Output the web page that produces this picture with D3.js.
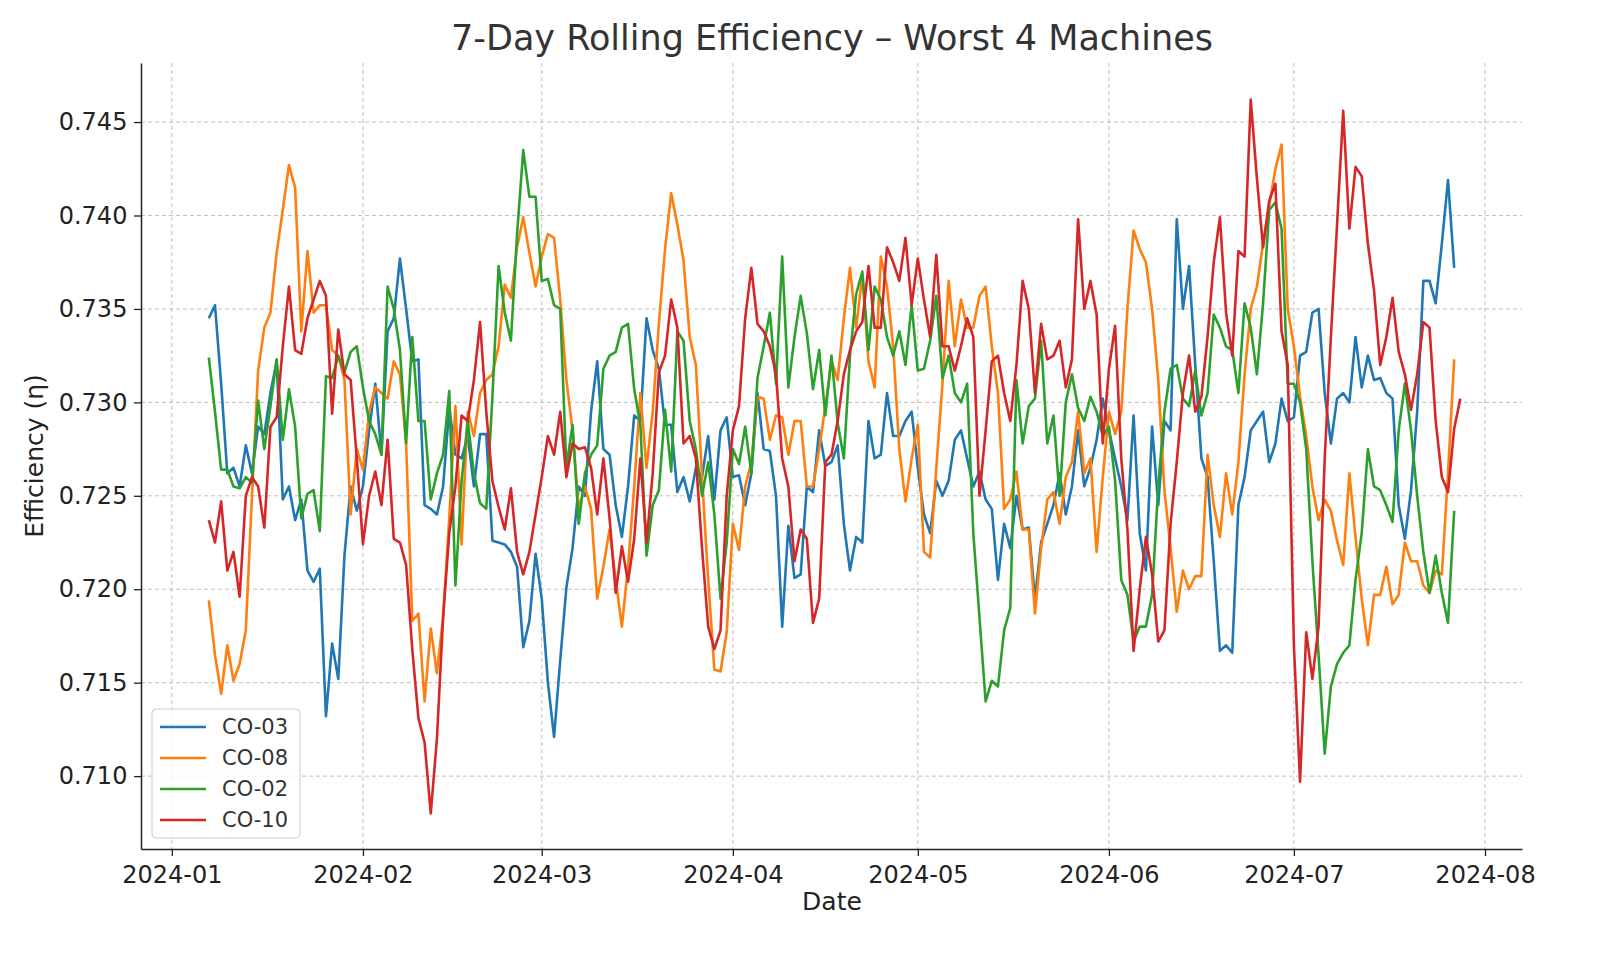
<!DOCTYPE html>
<html><head><meta charset="utf-8">
<script src="https://cdn.jsdelivr.net/npm/d3@7"></script>
<style>body{margin:0;background:#fff}svg{font-family:"DejaVu Sans",sans-serif}</style>
</head><body><svg id="c" width="1600" height="960"></svg>
<script>
const startDate = "2024-01-07";
const seriesNames = ["CO-03","CO-08","CO-02","CO-10"];
const colors = ["#1f77b4","#ff7f0e","#2ca02c","#d62728"];
const yTicks = [0.710,0.715,0.720,0.725,0.730,0.735,0.740,0.745];
const xTickLabels = ["2024-01","2024-02","2024-03","2024-04","2024-05","2024-06","2024-07","2024-08"];

const co03 = [.7345,.7352,.731,.7262,.7265,.7255,.7277,.7262,.7287,.7283,.7305,.7322,.7248,.7255,.7237,.7248,.721,.7204,.7211,.7132,.7171,.7152,.7218,.7255,.7242,
.7255,.7285,.731,.7272,.7338,.7345,.7377,.735,.7322,.7323,.7245,.7243,.724,.7255,.7297,.7272,.727,.7282,.7255,.7283,.7283,.7226,.7225,.7224,.722,.7212,.7169,.7183,.7219,
.7195,.715,.7121,.7162,.7201,.7222,.7255,.725,.7295,.7322,.7275,.7272,.7245,.7228,.7255,.7293,.729,.7345,.7328,.7318,.7288,.7288,.7252,.726,.7247,.7265,.726,.7282,.7248,.7285,.7292,
.726,.7261,.7245,.7262,.7305,.7275,.7274,.725,.718,.7234,.7206,.7208,.7255,.7252,.7285,.7266,.7268,.7277,.7235,.721,.7228,.7225,.729,.727,.7272,.7305,.7282,.7282,.729,.7295,
.7265,.724,.723,.7258,.725,.7258,.728,.7285,.727,.7255,.7263,.7248,.7243,.7205,.7235,.7222,.725,.7232,.7233,.7195,.7225,.7235,.7245,.7262,.724,.7255,.7285,.7255,.7265,.728,.7302,
.7285,.727,.7255,.7237,.7293,.723,.721,.7287,.7245,.729,.7285,.7398,.735,.7373,.732,.727,.726,.7215,.7167,.717,.7166,.7245,.726,.7285,.729,.7295,.7268,.7278,.7302,.729,
.7292,.7325,.7327,.7348,.735,.7305,.7278,.7302,.7305,.73,.7335,.7308,.7325,.7312,.7313,.7305,.7302,.7245,.7227,.7253,.7295,.7365,.7365,.7353,.7385,.7419,.7372];

const co08 = [.7194,.7165,.7144,.717,.7151,.716,.7178,.725,.7317,.734,.7348,.738,.7403,.7427,.7415,.7338,.7381,.7348,.7352,.7352,.7328,.7325,.7312,.724,.7275,
.7264,.7295,.7308,.7305,.7302,.7322,.7315,.7278,.7183,.7187,.714,.7179,.7155,.7185,.7238,.7298,.7224,.7295,.7282,.7305,.7312,.7315,.733,.7363,.7356,.7383,.7399,.738,.7362,
.7378,.739,.7388,.7355,.7312,.7285,.7243,.7255,.7243,.7195,.7212,.7232,.7205,.718,.7212,.7255,.7305,.7265,.7295,.7342,.7382,.7412,.7395,.7376,.7335,.732,.726,.7205,.7157,.7156,.7177,
.7235,.7221,.7255,.7268,.7303,.7302,.728,.7293,.7292,.7272,.729,.729,.7255,.7255,.7275,.7298,.7322,.7312,.7345,.7372,.734,.7368,.7322,.7308,.7378,.7362,.733,.7275,.7247,.727,
.7288,.722,.7217,.7265,.731,.7365,.733,.7355,.734,.734,.7357,.7362,.733,.7305,.7243,.7248,.7263,.7232,.7232,.7187,.7222,.7248,.7252,.7235,.726,.7268,.7295,.7262,.727,.722,.726,
.7295,.7283,.7295,.735,.7392,.7382,.7375,.735,.7312,.7253,.7222,.7188,.721,.72,.7207,.7207,.7272,.7245,.7228,.7262,.724,.7268,.7315,.735,.7362,.7385,.7405,.7425,.7438,.735,
.733,.7303,.7282,.7255,.7237,.7248,.7242,.7226,.7213,.7262,.7228,.7195,.717,.7197,.7197,.7212,.7192,.7197,.7225,.7215,.7215,.7202,.7198,.721,.7208,.7262,.7323];

const co02 = [.7324,.7295,.7264,.7264,.7255,.7254,.726,.7257,.7301,.7275,.7298,.7323,.728,.7307,.7287,.7238,.7251,.7253,.7231,.7314,.7313,.7325,.7316,.7327,.733,
.7308,.729,.7283,.7272,.7362,.735,.7328,.7278,.7335,.729,.729,.7248,.7262,.7272,.7306,.7202,.7258,.729,.7262,.7246,.7243,.7303,.7373,.7348,.7333,.739,.7435,.741,.741,
.7365,.7366,.7352,.735,.7265,.7288,.7235,.7262,.7272,.7277,.7318,.7325,.7327,.734,.7342,.7307,.7288,.7218,.7245,.7253,.7296,.7263,.7338,.7333,.729,.7275,.725,.7268,.724,.7195,.7225,
.7275,.7267,.7287,.7262,.7313,.733,.7348,.731,.7378,.7308,.7335,.7357,.7337,.7307,.7328,.7293,.7325,.7289,.727,.7325,.7358,.737,.7328,.7362,.7355,.7335,.7325,.7338,.732,.7352,
.7317,.7318,.7333,.7357,.7313,.7325,.7305,.73,.731,.723,.7185,.714,.7151,.7148,.7178,.719,.7312,.7278,.7298,.7302,.7333,.7278,.7293,.725,.73,.7315,.7297,.729,.7303,.7295,.7282,
.7287,.7258,.7205,.7197,.7172,.718,.718,.7197,.7255,.7295,.7318,.732,.7302,.7298,.7317,.7293,.7305,.7347,.734,.733,.7328,.7305,.7353,.734,.7315,.7353,.7403,.7407,.7393,.731,
.731,.73,.7275,.7215,.7165,.7112,.7148,.716,.7166,.717,.7205,.723,.7275,.7255,.7253,.7245,.7236,.7285,.731,.7285,.725,.722,.7198,.7218,.7198,.7182,.7242];

const co10 = [.7237,.7225,.7247,.721,.722,.7196,.725,.726,.7255,.7233,.7287,.7292,.733,.7362,.7328,.7326,.7345,.7355,.7365,.7357,.7294,.7339,.7315,.7312,.727,
.7224,.725,.7263,.7245,.728,.7227,.7225,.7213,.7168,.7131,.7118,.708,.712,.7185,.723,.7255,.7293,.729,.7312,.7343,.7295,.7258,.7244,.7232,.7254,.722,.7208,.722,.724,
.726,.7282,.7272,.7295,.726,.7278,.7275,.7276,.7265,.724,.727,.7238,.7198,.7223,.7204,.7227,.727,.7225,.7262,.7316,.7325,.7355,.734,.7278,.7282,.727,.7222,.718,.7168,.7178,.725,
.7285,.7298,.7345,.7372,.7342,.7338,.733,.7315,.727,.7255,.7215,.7232,.7227,.7182,.7195,.7268,.7272,.729,.7315,.7328,.7338,.7343,.7373,.734,.734,.7383,.7375,.7365,.7388,.7352,
.7377,.7355,.7335,.7379,.733,.733,.7317,.733,.7345,.7335,.725,.7285,.7322,.7325,.7305,.729,.732,.7365,.735,.7305,.7342,.7323,.7325,.7333,.7308,.7323,.7398,.735,.7365,.7347,.7278,
.7318,.7341,.727,.7232,.7167,.72,.7228,.7208,.7172,.7178,.7235,.7268,.7305,.7325,.7295,.7303,.7335,.7375,.7399,.7348,.7325,.7381,.7378,.7462,.742,.7383,.7408,.7417,.7338,.732,
.717,.7097,.7177,.7152,.718,.727,.7335,.7395,.7456,.7393,.7426,.7421,.7385,.736,.732,.7335,.7356,.7327,.7315,.7296,.7315,.7343,.734,.729,.726,.7252,.7286,.7302];

const series = [co03,co08,co02,co10];

const svg = d3.select("#c");
const m = {l:141, r:1522, t:63, b:849};
const t0 = d3.timeParse("%Y-%m-%d")(startDate);
const dayAt = i => d3.timeDay.offset(t0, i);
const x = d3.scaleTime().domain([dayAt(-10.2), dayAt(213.3)]).range([m.l, m.r]);
const y = d3.scaleLinear().domain([0.7061, 0.74816]).range([m.b, m.t]);
const tickDates = xTickLabels.map(s => d3.timeParse("%Y-%m")(s));

const grid = svg.append("g").attr("stroke","#b0b0b0").attr("stroke-dasharray","4,3").attr("stroke-width",0.8);
tickDates.forEach(d => grid.append("line").attr("x1",x(d)).attr("x2",x(d)).attr("y1",m.t).attr("y2",m.b));
yTicks.forEach(v => grid.append("line").attr("x1",m.l).attr("x2",m.r).attr("y1",y(v)).attr("y2",y(v)));

const line = d3.line().x((d,i)=>x(dayAt(i))).y(d=>y(d));
series.forEach((s,k) => svg.append("path").datum(s).attr("d",line).attr("fill","none")
  .attr("stroke",colors[k]).attr("stroke-width",2.6).attr("stroke-linejoin","round"));

const xa = svg.append("g").attr("transform",`translate(0,${m.b})`)
  .call(d3.axisBottom(x).tickValues(tickDates).tickFormat((d,i)=>xTickLabels[i]).tickSize(7).tickSizeOuter(0));
const ya = svg.append("g").attr("transform",`translate(${m.l},0)`)
  .call(d3.axisLeft(y).tickValues(yTicks).tickFormat(d3.format(".3f")).tickSize(7).tickSizeOuter(0));
[xa,ya].forEach(a=>{a.selectAll("text").attr("font-size",24).attr("fill","#222").attr("font-family","DejaVu Sans");
  a.selectAll("line").attr("stroke","#222").attr("stroke-width",1.3); a.select(".domain").attr("stroke","#222").attr("stroke-width",1.5);});
xa.selectAll("text").attr("dy","1.0em");
ya.selectAll("text").attr("dx","-0.15em");

svg.append("text").attr("x",832).attr("y",50).attr("text-anchor","middle").attr("font-size",35).attr("fill","#333").text("7-Day Rolling Efficiency – Worst 4 Machines");
svg.append("text").attr("x",832).attr("y",910).attr("text-anchor","middle").attr("font-size",25).attr("fill","#222").text("Date");
svg.append("text").attr("transform","translate(43,456) rotate(-90)").attr("text-anchor","middle").attr("font-size",25).attr("fill","#222").text("Efficiency (η)");

const lg = svg.append("g").attr("transform","translate(152,709)");
lg.append("rect").attr("width",148).attr("height",129).attr("rx",4).attr("fill","#fff").attr("fill-opacity",0.8).attr("stroke","#ccc");
seriesNames.forEach((n,i)=>{
  const yy = 18 + i*31;
  lg.append("line").attr("x1",8).attr("x2",54).attr("y1",yy).attr("y2",yy).attr("stroke",colors[i]).attr("stroke-width",2.6);
  lg.append("text").attr("x",70).attr("y",yy+7).attr("font-size",21).attr("fill","#333").text(n);
});
</script></body></html>
